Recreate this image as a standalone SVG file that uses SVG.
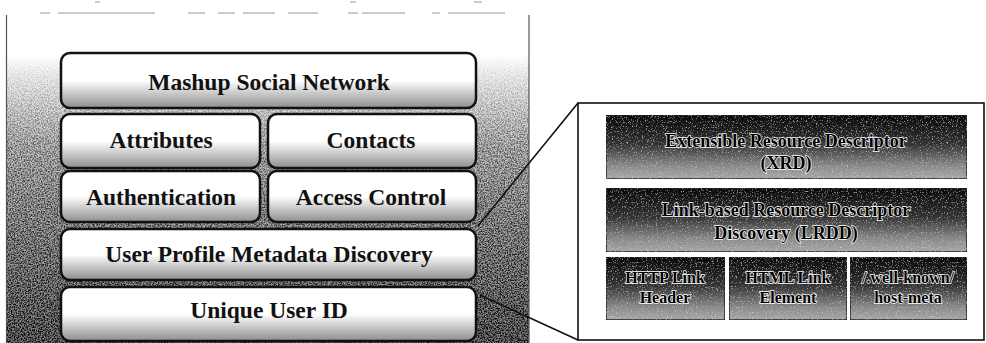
<svg xmlns="http://www.w3.org/2000/svg" width="986" height="343" viewBox="0 0 986 343">
<style>
.box{stroke:#111;stroke-width:2.5}
.lbl{font-family:"Liberation Serif","DejaVu Serif",serif;font-weight:bold;font-size:23.5px;fill:#111;text-anchor:middle}
.rbox{stroke:#222;stroke-width:1.5}
.rl{font-family:"Liberation Serif","DejaVu Serif",serif;font-weight:bold;font-size:18px;fill:#000;text-anchor:middle;stroke:#fff;stroke-width:1.4;paint-order:stroke}
.rs{font-size:16px}
.conn{stroke:#111;stroke-width:1.6;fill:none}
.scan{stroke:#999;stroke-width:1}
</style>
<defs>
<filter id="grain" x="0" y="0" width="100%" height="100%">
<feTurbulence type="fractalNoise" baseFrequency="0.7" numOctaves="2" seed="5" result="t"/>
<feColorMatrix in="t" type="matrix" values="0 0 0 0 0  0 0 0 0 0  0 0 0 0 0  0 0 0 3 -1.1" result="n"/>
<feComposite in="n" in2="SourceGraphic" operator="in"/>
</filter>
<filter id="noise" x="0" y="0" width="100%" height="100%">
<feTurbulence type="fractalNoise" baseFrequency="0.8" numOctaves="2" seed="3" result="t"/>
<feColorMatrix in="t" type="matrix" values="0 0 0 0 1  0 0 0 0 1  0 0 0 0 1  0 0 0 1.6 -0.95" result="n"/>
<feComposite in="n" in2="SourceGraphic" operator="in" result="m"/>
<feMerge><feMergeNode in="SourceGraphic"/><feMergeNode in="m"/></feMerge>
</filter>
<linearGradient id="panelG" x1="0" y1="0" x2="0" y2="1">
<stop offset="0" stop-color="#ffffff"/>
<stop offset="0.12" stop-color="#ffffff"/>
<stop offset="0.4" stop-color="#c4c4c4"/>
<stop offset="1" stop-color="#7a7a7a"/>
</linearGradient>
<linearGradient id="maskG" x1="0" y1="0" x2="0" y2="1">
<stop offset="0" stop-color="#000"/>
<stop offset="0.12" stop-color="#000"/>
<stop offset="0.4" stop-color="#888"/>
<stop offset="1" stop-color="#fff"/>
</linearGradient>
<mask id="panelMask" maskUnits="userSpaceOnUse" x="0" y="0" width="986" height="343">
<rect x="6" y="15" width="523" height="330" fill="url(#maskG)"/>
</mask>
<linearGradient id="boxG" x1="0" y1="0" x2="0" y2="1">
<stop offset="0" stop-color="#ffffff"/>
<stop offset="0.5" stop-color="#ffffff"/>
<stop offset="0.72" stop-color="#cccccc"/>
<stop offset="1" stop-color="#8e8e8e"/>
</linearGradient>
<linearGradient id="rboxG" x1="0" y1="0" x2="0" y2="1">
<stop offset="0" stop-color="#0a0a0a"/>
<stop offset="0.45" stop-color="#333333"/>
<stop offset="0.8" stop-color="#8a8a8a"/>
<stop offset="1" stop-color="#a8a8a8"/>
</linearGradient>
</defs>
<rect width="986" height="343" fill="#ffffff"/>
<g id="scan-marks">
<path class="scan" d="M40 13H50 M58 13H155 M188 13H205 M218 13H235 M243 13H275 M288 13H318 M348 13H358 M362 13H405 M432 13H440 M448 13H505 M95 2H100 M350 2H356 M474 2H482"/>
</g>
<g id="left-panel">
<rect x="6" y="15" width="523" height="330" fill="url(#panelG)"/>
<rect x="6" y="15" width="523" height="330" fill="#000" filter="url(#grain)" mask="url(#panelMask)"/>
<path d="M6.5 15V343 M529 15V343" stroke="#555" stroke-width="1.2" fill="none"/>
</g>
<g id="node-mashup">
<rect x="61" y="53" width="415" height="55" rx="9" class="box" fill="url(#boxG)"/>
<text x="269" y="90" class="lbl">Mashup Social Network</text>
</g>
<g id="node-attributes">
<rect x="61" y="114" width="199" height="54" rx="9" class="box" fill="url(#boxG)"/>
<text x="161" y="148" class="lbl">Attributes</text>
</g>
<g id="node-contacts">
<rect x="268" y="114" width="208" height="54" rx="9" class="box" fill="url(#boxG)"/>
<text x="371" y="148" class="lbl">Contacts</text>
</g>
<g id="node-authentication">
<rect x="61" y="171" width="199" height="51" rx="9" class="box" fill="url(#boxG)"/>
<text x="161" y="205" class="lbl">Authentication</text>
</g>
<g id="node-access-control">
<rect x="268" y="171" width="208" height="51" rx="9" class="box" fill="url(#boxG)"/>
<text x="371" y="205" class="lbl">Access Control</text>
</g>
<g id="node-user-profile">
<rect x="61" y="229" width="415" height="51" rx="9" class="box" fill="url(#boxG)"/>
<text x="269" y="262" class="lbl">User Profile Metadata Discovery</text>
</g>
<g id="node-unique-id">
<rect x="61" y="287" width="415" height="54" rx="9" class="box" fill="url(#boxG)"/>
<text x="269" y="318" class="lbl">Unique User ID</text>
</g>
<g id="connectors">
<path class="conn" d="M478 226L578 103"/>
<path class="conn" d="M480 295L578 340"/>
</g>
<g id="detail-panel">
<rect x="578" y="103" width="406" height="237" fill="#ffffff" stroke="#111" stroke-width="1.6"/>
</g>
<g id="node-xrd">
<rect x="606" y="115" width="361" height="64" class="rbox" fill="url(#rboxG)" filter="url(#noise)"/>
<text x="786" y="147" class="rl">Extensible Resource Descriptor</text>
<text x="786" y="169" class="rl">(XRD)</text>
</g>
<g id="node-lrdd">
<rect x="606" y="188" width="361" height="64" class="rbox" fill="url(#rboxG)" filter="url(#noise)"/>
<text x="786" y="216" class="rl">Link-based Resource Descriptor</text>
<text x="786" y="239" class="rl">Discovery (LRDD)</text>
</g>
<g id="node-link-header">
<rect x="606" y="257" width="119" height="63" class="rbox" fill="url(#rboxG)" filter="url(#noise)"/>
<text x="665" y="283" class="rl rs">HTTP Link</text>
<text x="665" y="303" class="rl rs">Header</text>
</g>
<g id="node-link-element">
<rect x="729" y="257" width="118" height="63" class="rbox" fill="url(#rboxG)" filter="url(#noise)"/>
<text x="788" y="283" class="rl rs">HTML Link</text>
<text x="788" y="303" class="rl rs">Element</text>
</g>
<g id="node-host-meta">
<rect x="850" y="257" width="117" height="63" class="rbox" fill="url(#rboxG)" filter="url(#noise)"/>
<text x="908" y="283" class="rl rs">/.well-known/</text>
<text x="908" y="303" class="rl rs">host-meta</text>
</g>
</svg>
